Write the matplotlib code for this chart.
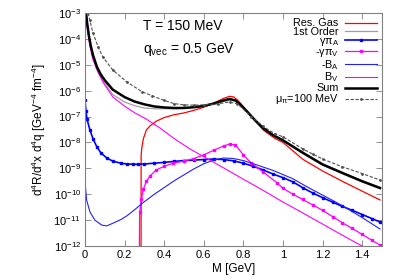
import numpy as np
import matplotlib
matplotlib.use("Agg")
import matplotlib.pyplot as plt
from matplotlib.ticker import FixedLocator, FormatStrFormatter, LogFormatterSciNotation, NullLocator

plt.rcParams['font.family'] = ['Liberation Sans', 'DejaVu Sans']
plt.rcParams['mathtext.fontset'] = 'custom'
plt.rcParams['mathtext.rm'] = 'Liberation Sans'
plt.rcParams['mathtext.it'] = 'Liberation Sans'
plt.rcParams['mathtext.default'] = 'regular'

# values, as log10 of the rate
m_sum = [0.005, 0.01, 0.02, 0.03, 0.04, 0.06, 0.08, 0.1, 0.14, 0.2, 0.25, 0.3, 0.35, 0.4, 0.45, 0.5,
         0.55, 0.6, 0.65, 0.7, 0.73, 0.76, 0.78, 0.82, 0.86, 0.9, 0.95, 1.0, 1.1, 1.2, 1.3, 1.4, 1.49]
lg_sum = [-2.95, -3.35, -3.9, -4.3, -4.62, -5.08, -5.38, -5.6, -5.96, -6.25, -6.42, -6.53, -6.61, -6.65,
          -6.67, -6.67, -6.64, -6.59, -6.5, -6.38, -6.32, -6.38, -6.5, -6.82, -7.15, -7.45, -7.72, -7.92,
          -8.4, -8.85, -9.18, -9.5, -9.76]

m_first = [0.006, 0.01, 0.02, 0.03, 0.04, 0.06, 0.08, 0.1, 0.14, 0.2, 0.25, 0.3, 0.35, 0.4, 0.45, 0.5,
           0.55, 0.6, 0.65, 0.7, 0.74, 0.78, 0.82, 0.86, 0.9, 0.95, 1.0, 1.1, 1.2, 1.3, 1.4, 1.49]
lg_first = [-3.0, -3.45, -4.0, -4.4, -4.72, -5.2, -5.5, -5.72, -6.15, -6.44, -6.58, -6.67, -6.7, -6.7,
            -6.7, -6.68, -6.64, -6.58, -6.5, -6.41, -6.37, -6.45, -6.8, -7.13, -7.43, -7.7, -7.9,
            -8.37, -8.82, -9.15, -9.47, -9.73]

m_mu = [0.015, 0.024, 0.04, 0.066, 0.09, 0.14, 0.21, 0.29, 0.34, 0.4, 0.45, 0.5, 0.55, 0.6, 0.67,
        0.73, 0.77, 0.84, 0.9, 0.96, 1.0, 1.1, 1.15, 1.2, 1.3, 1.4, 1.49]
lg_mu = [-3.0, -3.27, -3.77, -4.31, -4.7, -5.2, -5.66, -6.05, -6.2, -6.38, -6.5, -6.55, -6.56, -6.55,
         -6.51, -6.44, -6.51, -7.0, -7.38, -7.67, -7.78, -8.25, -8.45, -8.64, -8.94, -9.2, -9.45]

m_res = [0.283, 0.2835, 0.287, 0.295, 0.31, 0.33, 0.36, 0.4, 0.45, 0.5, 0.55, 0.6, 0.65, 0.7, 0.73,
         0.75, 0.77, 0.8, 0.84, 0.9, 0.96, 1.0, 1.1, 1.2, 1.3, 1.4, 1.49]
lg_res = [-13.0, -8.5, -8.2, -7.85, -7.52, -7.35, -7.18, -7.04, -6.93, -6.86, -6.76, -6.64, -6.48,
          -6.3, -6.22, -6.24, -6.36, -6.62, -7.0, -7.52, -7.85, -8.0, -8.65, -9.1, -9.5, -9.88, -10.22]

m_gpa = [0.0, 0.005, 0.01, 0.025, 0.04, 0.06, 0.08, 0.11, 0.14, 0.18, 0.21, 0.24, 0.27, 0.3, 0.35,
         0.4, 0.45, 0.5, 0.55, 0.6, 0.65, 0.7, 0.75, 0.8, 0.85, 0.9, 0.95, 1.0, 1.05, 1.1, 1.15, 1.2,
         1.25, 1.3, 1.35, 1.4, 1.45, 1.49]
lg_gpa = [-6.36, -6.8, -7.1, -7.52, -7.85, -8.17, -8.4, -8.6, -8.72, -8.8, -8.83, -8.84, -8.84, -8.83,
          -8.8, -8.77, -8.73, -8.7, -8.68, -8.66, -8.64, -8.66, -8.71, -8.8, -8.92, -9.06, -9.22,
          -9.36, -9.52, -9.75, -9.95, -10.13, -10.3, -10.47, -10.62, -10.78, -10.94, -11.07]

m_gpv = [0.2735, 0.276, 0.285, 0.295, 0.31, 0.33, 0.36, 0.4, 0.445, 0.5, 0.55, 0.6, 0.65, 0.7, 0.73,
         0.76, 0.8, 0.84, 0.9, 0.97, 1.0, 1.05, 1.1, 1.15, 1.2, 1.25, 1.3, 1.35, 1.4, 1.45, 1.49]
lg_gpv = [-13.0, -10.7, -10.2, -9.8, -9.5, -9.28, -9.06, -8.92, -8.8, -8.72, -8.62, -8.48, -8.3, -8.14,
          -8.06, -8.1, -8.48, -8.8, -9.14, -9.56, -9.77, -10.0, -10.2, -10.41, -10.62, -10.86, -11.1,
          -11.32, -11.55, -11.78, -11.96]

m_ba = [0.0, 0.008, 0.025, 0.05, 0.085, 0.11, 0.14, 0.18, 0.21, 0.25, 0.29, 0.35, 0.4, 0.45, 0.5,
        0.55, 0.6, 0.65, 0.7, 0.75, 0.8, 0.85, 0.9, 0.95, 1.0, 1.05, 1.1, 1.15, 1.2, 1.3, 1.4, 1.49]
lg_ba = [-9.49, -10.22, -10.68, -11.0, -11.19, -11.22, -11.12, -10.98, -10.84, -10.6, -10.34, -10.0,
         -9.74, -9.48, -9.25, -9.02, -8.82, -8.68, -8.6, -8.62, -8.7, -8.82, -8.95, -9.08, -9.24, -9.4,
         -9.62, -9.83, -10.03, -10.44, -10.9, -11.34]

m_bv = [0.003, 0.01, 0.024, 0.04, 0.066, 0.09, 0.14, 0.2, 0.25, 0.31, 0.38, 0.45, 0.53, 0.6, 0.7, 0.8,
        0.9, 1.0, 1.1, 1.2, 1.3, 1.4, 1.45]
lg_bv = [-3.0, -3.5, -4.25, -4.8, -5.28, -5.66, -6.24, -6.6, -6.85, -7.1, -7.45, -7.85, -8.25, -8.55,
         -8.98, -9.42, -9.85, -10.3, -10.72, -11.15, -11.58, -12.0, -12.2]

fig = plt.figure(figsize=(4, 2.8), dpi=100)
ax = fig.add_axes([0.2125, 0.121, 0.7425, 0.833])

ax.plot(m_res, 10 ** np.array(lg_res), color='#ff0000', lw=0.9, label='Res. Gas')
ax.plot(m_first, 10 ** np.array(lg_first), color='#a0a0a0', lw=0.9, label='1st Order')
ax.plot(m_gpa, 10 ** np.array(lg_gpa), color='#0000ff', lw=1.2, marker='s', ms=1.6,
        label=r'$\gamma\pi_A$')
ax.plot(m_gpv, 10 ** np.array(lg_gpv), color='#ff00ff', lw=0.9, marker='s', ms=1.6,
        label=r'-$\gamma\pi_V$')
ax.plot(m_ba, 10 ** np.array(lg_ba), color='#2020ff', lw=0.8, label='-B$_A$')
ax.plot(m_bv, 10 ** np.array(lg_bv), color='#ff00ff', lw=0.8, label='B$_V$')
ax.plot(m_sum, 10 ** np.array(lg_sum), color='black', lw=1.8, label='Sum')
ax.plot(m_mu, 10 ** np.array(lg_mu), color='#505050', lw=0.8, ls=(0, (3, 1.5)), marker='.', ms=2,
        label=r'$\mu_\pi$=100 MeV')

ax.set_yscale('log')
ax.set_xlim(0, 1.5)
ax.set_ylim(1e-12, 1e-3)
ax.yaxis.set_major_locator(FixedLocator([10.0 ** k for k in range(-12, -2)]))
ax.yaxis.set_major_formatter(LogFormatterSciNotation())
ax.yaxis.set_minor_locator(NullLocator())
ax.xaxis.set_major_locator(FixedLocator([0, 0.2, 0.4, 0.6, 0.8, 1.0, 1.2, 1.4]))
ax.xaxis.set_major_formatter(FormatStrFormatter('%g'))
ax.tick_params(direction='in', top=True, right=True, length=4, width=0.6, color='#808080',
               labelsize=8, pad=3)
for s in ax.spines.values():
    s.set_color('#808080')
    s.set_linewidth(0.8)

ax.set_xlabel('M [GeV]', fontsize=8.5, labelpad=2)
ax.set_ylabel(r'd$^4$R/d$^4$x d$^4$q [GeV$^{-4}$ fm$^{-4}$]', fontsize=8.5, labelpad=4)

ax.text(0.195, 0.975, 'T = 150 MeV', transform=ax.transAxes, fontsize=10, va='top')
ax.text(0.195, 0.88, r'q$_{vec}$ = 0.5 GeV', transform=ax.transAxes, fontsize=10, va='top')

ax.legend(loc='upper right', frameon=False, markerfirst=False, fontsize=7.8, numpoints=1,
          handlelength=2.9, handletextpad=0.6, labelspacing=-0.1, borderaxespad=0.3,
          borderpad=0.2)

fig.savefig('out.png', dpi=100)
